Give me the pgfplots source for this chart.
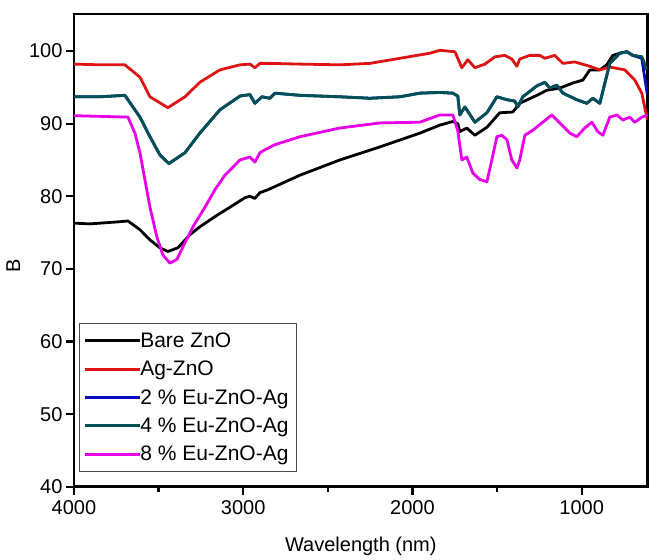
\documentclass[border=0pt]{standalone}
\usepackage{fontspec}
\setmainfont{Liberation Sans}
\usepackage{pgfplots}
\pgfplotsset{compat=1.18}
\definecolor{cred}{RGB}{222,20,20}
\definecolor{cteal}{RGB}{0,82,82}
\definecolor{cmag}{RGB}{232,0,232}
\definecolor{cblue}{RGB}{10,10,190}
\begin{document}
\begin{tikzpicture}
\begin{axis}[
  scale only axis,
  width=574pt, height=473pt,
  x dir=reverse,
  xmin=610, xmax=4000,
  ymin=40, ymax=105.1,
  xtick={1000,2000,3000,4000},
  minor xtick={1500,2500,3500},
  ytick={40,50,60,70,80,90,100},
  tick align=outside,
  xtick pos=bottom, ytick pos=left,
  major tick length=8pt, minor tick length=5pt,
  every tick/.style={black, line width=2.2pt},
  axis line style={line width=2.6pt},
  /pgf/number format/assume math mode=true,
  /pgf/number format/1000 sep={},
  tick label style={font=\fontsize{20}{24}\selectfont},
  xticklabel style={yshift=-2pt},
  label style={font=\fontsize{20}{24}\selectfont},
  xlabel={Wavelength (nm)},
  ylabel={B},
  ylabel style={yshift=2pt, xshift=-15pt},
  xlabel style={yshift=-16pt},
  legend cell align=left,
  legend style={at={(0.009,0.032)}, anchor=south west, draw=black!70, line width=0.8pt,
    font=\fontsize{21}{24}\selectfont, row sep=8.2pt, column sep=-3pt,
    inner xsep=4pt, inner ysep=7pt, nodes={inner xsep=2pt}},
  legend image code/.code={\draw[#1] (0pt,0pt) -- (55pt,0pt);},
  every axis plot/.append style={line width=2.8pt, line join=round},
]
\addplot[black] coordinates {
(4000,76.3) (3905,76.2) (3846,76.3) (3728,76.5) (3681,76.6) (3610,75.4) (3551,74.0) (3492,72.9) (3445,72.4) (3386,72.9) (3315,74.7) (3256,75.8) (3167,77.2) (3078,78.5) (2990,79.8) (2960,80.0) (2931,79.7) (2901,80.5) (2854,80.9) (2665,82.9) (2429,85.0) (2192,86.8) (1956,88.7) (1838,89.8) (1761,90.3) (1732,90.0) (1720,88.9) (1679,89.4) (1631,88.4) (1560,89.5) (1484,91.5) (1407,91.6) (1366,92.8) (1265,93.9) (1206,94.6) (1129,94.9) (1052,95.6) (993,96.0) (952,97.4) (893,97.4) (852,98.1) (816,99.4) (775,99.7) (733,99.9) (698,99.4) (645,99.2) (615,97.4)
};
\addlegendentry{Bare ZnO}
\addplot[cred] coordinates {
(4000,98.2) (3846,98.1) (3699,98.1) (3610,96.4) (3551,93.7) (3445,92.2) (3344,93.7) (3256,95.7) (3138,97.4) (3019,98.1) (2960,98.2) (2931,97.7) (2901,98.3) (2842,98.3) (2665,98.2) (2429,98.1) (2252,98.3) (2074,99.0) (1897,99.7) (1838,100.1) (1749,99.9) (1708,97.7) (1673,98.8) (1631,97.7) (1572,98.2) (1513,99.2) (1454,99.4) (1413,98.9) (1383,97.9) (1366,98.9) (1306,99.4) (1247,99.4) (1218,99.0) (1159,99.4) (1111,98.3) (1041,98.5) (952,97.9) (893,97.4) (834,97.8) (745,97.4) (686,96.0) (645,94.2) (612,90.5)
};
\addlegendentry{Ag-ZnO}
\addplot[cblue] coordinates {
(4000,93.7) (3846,93.7) (3699,93.9) (3610,90.9) (3551,88.2) (3492,85.7) (3439,84.5) (3344,86.0) (3256,88.7) (3138,91.9) (3019,93.8) (2960,94.0) (2931,92.8) (2889,93.7) (2842,93.5) (2813,94.2) (2665,93.9) (2429,93.7) (2252,93.5) (2074,93.7) (1956,94.2) (1838,94.3) (1761,94.2) (1732,93.8) (1720,91.2) (1690,92.3) (1631,90.2) (1560,91.5) (1501,93.7) (1442,93.3) (1395,93.1) (1377,92.3) (1348,93.7) (1265,95.2) (1218,95.7) (1188,94.9) (1147,95.3) (1111,94.2) (1029,93.3) (970,92.8) (934,93.5) (893,92.8) (863,95.6) (834,98.3) (775,99.7) (733,99.9) (698,99.4) (645,99.0) (612,94.0)
};
\addlegendentry{2 \% Eu-ZnO-Ag\hspace*{2pt}}
\addplot[cteal] coordinates {
(4000,93.7) (3846,93.7) (3699,93.9) (3610,90.9) (3551,88.2) (3492,85.7) (3439,84.5) (3344,86.0) (3256,88.7) (3138,91.9) (3019,93.8) (2960,94.0) (2931,92.8) (2889,93.7) (2842,93.5) (2813,94.2) (2665,93.9) (2429,93.7) (2252,93.5) (2074,93.7) (1956,94.2) (1838,94.3) (1761,94.2) (1732,93.8) (1720,91.2) (1690,92.3) (1631,90.2) (1560,91.5) (1501,93.7) (1442,93.3) (1395,93.1) (1377,92.3) (1348,93.7) (1265,95.2) (1218,95.7) (1188,94.9) (1147,95.3) (1111,94.2) (1029,93.3) (970,92.8) (934,93.5) (893,92.8) (863,95.6) (834,98.3) (775,99.7) (733,99.9) (698,99.4) (645,99.2) (615,97.4)
};
\addlegendentry{4 \% Eu-ZnO-Ag\hspace*{2pt}}
\addplot[cmag] coordinates {
(4000,91.1) (3681,90.9) (3640,88.7) (3610,86.0) (3581,82.3) (3551,78.5) (3510,74.4) (3474,71.9) (3433,70.8) (3392,71.3) (3344,73.6) (3297,75.8) (3226,78.5) (3167,80.9) (3108,82.9) (3019,85.0) (2960,85.4) (2931,84.7) (2901,86.0) (2872,86.4) (2813,87.1) (2665,88.2) (2429,89.4) (2192,90.1) (1956,90.2) (1838,91.2) (1761,91.2) (1732,89.0) (1708,85.0) (1679,85.4) (1643,83.2) (1602,82.3) (1560,82.0) (1531,85.0) (1501,88.2) (1472,88.4) (1442,87.8) (1413,85.0) (1383,83.9) (1366,85.0) (1336,88.4) (1289,89.1) (1230,90.2) (1176,91.2) (1129,90.1) (1070,88.7) (1029,88.2) (982,89.4) (940,90.2) (905,88.9) (875,88.4) (834,90.9) (792,91.2) (757,90.5) (716,90.9) (686,90.2) (645,90.9) (610,91.2)
};
\addlegendentry{8 \% Eu-ZnO-Ag\hspace*{2pt}}
\end{axis}
\path (current axis.south west) ++(-74pt,-69pt) coordinate (bbA);
\path (current axis.north east) ++(1pt,14pt) coordinate (bbB);
\path (bbA) rectangle (bbB);
\end{tikzpicture}
\end{document}
